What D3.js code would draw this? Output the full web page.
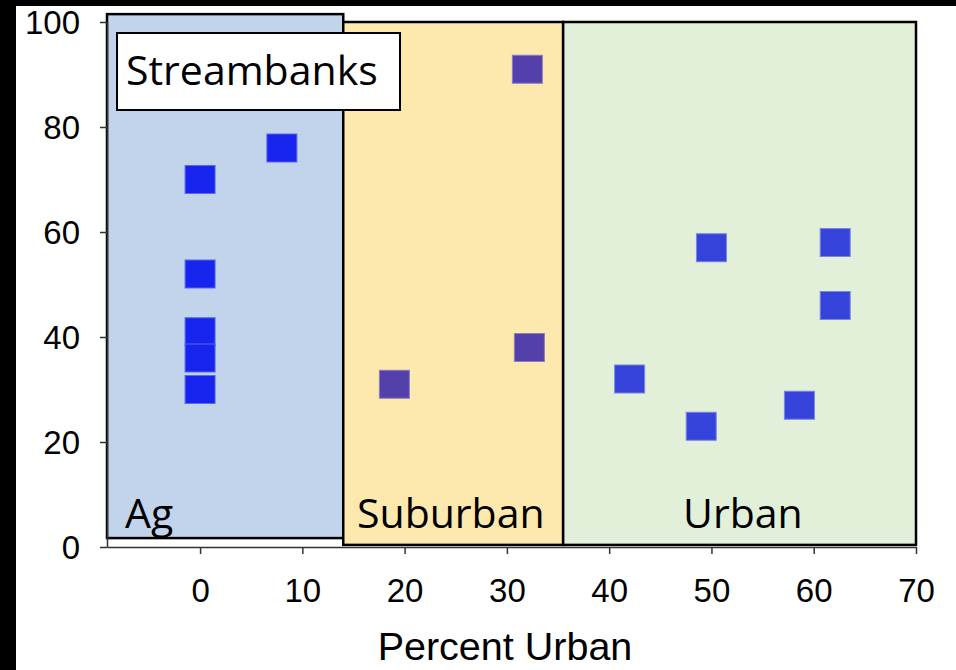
<!DOCTYPE html>
<html lang="en">
<head>
  <meta charset="UTF-8">
  <title>Streambanks</title>
  <style>
    html, body { margin: 0; padding: 0; background: #fff; }
    svg { display: block; }
  </style>
</head>
<body>
<svg id="chart" width="956" height="670"></svg>

<script src="https://cdn.jsdelivr.net/npm/d3@7"></script>
<script>

// land use zones (x in percent urban, y in axis units)
var zoneNames = ["Ag", "Suburban", "Urban"],
  zoneX0 = [-9.1, 14, 35.5],
  zoneX1 = [14, 35.5, 70],
  zoneY0 = [1.7, 0.4, 0.4],
  zoneY1 = [101.5, 100, 100],
  zoneFill = ["#c2d3ec", "#fde8ad", "#e2efd9"];

// points: percent urban vs streambank value
var agX = [0, 0, 0, 0, 0, 8],
  agY = [70, 52, 41, 36, 30, 76];
var subX = [32, 32.2, 19],
  subY = [91, 38, 31];
var urbX = [50, 62.1, 62.1, 42, 58.6, 49],
  urbY = [57, 58, 46, 32, 27, 23];

var xTicks = [0, 10, 20, 30, 40, 50, 60, 70],
  yTicks = [0, 20, 40, 60, 80, 100];

var svg = d3.select("#chart"),
  x = d3.scaleLinear().domain([-9.1, 70]).range([107, 916]),
  y = d3.scaleLinear().domain([0, 100]).range([547, 22]),
  sqW = 30, sqH = 28;

// black frame pieces at top and left edge
svg.append("rect").attr("x", 0).attr("y", 0).attr("width", 956).attr("height", 6).attr("fill", "#000");
svg.append("rect").attr("x", 0).attr("y", 0).attr("width", 16).attr("height", 670).attr("fill", "#000");

// plot top line
svg.append("line")
  .attr("x1", x(-9.1)).attr("x2", x(70))
  .attr("y1", y(100)).attr("y2", y(100))
  .attr("stroke", "#555").attr("stroke-width", 1);

var zones = zoneNames.map(function (n, i) {
  return { name: n, x0: zoneX0[i], x1: zoneX1[i], y0: zoneY0[i], y1: zoneY1[i], fill: zoneFill[i] };
});

svg.selectAll("rect.zone")
  .data(zones)
  .enter().append("rect")
  .attr("class", "zone")
  .attr("x", function (d) { return x(d.x0); })
  .attr("y", function (d) { return y(d.y1); })
  .attr("width", function (d) { return x(d.x1) - x(d.x0); })
  .attr("height", function (d) { return y(d.y0) - y(d.y1); })
  .attr("fill", function (d) { return d.fill; })
  .attr("stroke", "#000")
  .attr("stroke-width", 2.5);

// axes
var yAxis = svg.append("g")
  .attr("transform", "translate(" + x(-9.1) + ",0)")
  .call(d3.axisLeft(y).tickValues(yTicks).tickSize(7).tickSizeOuter(0).tickPadding(20));
var xAxis = svg.append("g")
  .attr("transform", "translate(0," + y(0) + ")")
  .call(d3.axisBottom(x).tickValues(xTicks).tickSize(7).tickSizeOuter(0).tickPadding(25));

[xAxis, yAxis].forEach(function (g) {
  g.select(".domain").attr("stroke", "#333").attr("stroke-width", 1.5);
  g.selectAll(".tick line").attr("stroke", "#333").attr("stroke-width", 1.5);
  g.selectAll(".tick text")
    .attr("fill", "#000")
    .style("font-family", "'Liberation Sans', Arial, sans-serif")
    .style("font-size", "33px");
});
yAxis.selectAll(".tick text").attr("dy", "0.36em");

// zone labels
var labelX = [125, 357, 683];
svg.selectAll("text.zoneLabel")
  .data(zones)
  .enter().append("text")
  .attr("class", "zoneLabel")
  .attr("x", function (d, i) { return labelX[i]; })
  .attr("y", 528)
  .style("font-family", "'Open Sans', 'Noto Sans', sans-serif")
  .style("font-size", "41px")
  .attr("fill", "#000")
  .text(function (d) { return d.name; });

// title box
svg.append("rect")
  .attr("x", 117).attr("y", 33).attr("width", 283).attr("height", 77)
  .attr("fill", "#fff").attr("stroke", "#000").attr("stroke-width", 2);
svg.append("text")
  .attr("x", 126).attr("y", 85)
  .style("font-family", "'Open Sans', 'Noto Sans', sans-serif")
  .style("font-size", "41px")
  .attr("fill", "#000")
  .text("Streambanks");

// points
function drawSquares(xs, ys, fill, edge) {
  var pts = xs.map(function (v, i) { return { x: v, y: ys[i] }; });
  svg.append("g").selectAll("rect")
    .data(pts)
    .enter().append("rect")
    .attr("x", function (d) { return x(d.x) - sqW / 2; })
    .attr("y", function (d) { return y(d.y) - sqH / 2; })
    .attr("width", sqW)
    .attr("height", sqH)
    .attr("fill", fill)
    .attr("stroke", edge)
    .attr("stroke-width", 1);
}

drawSquares(agX, agY, "#1624ee", "#5d68f0");
drawSquares(subX, subY, "#5340aa", "#8a7cc8");
drawSquares(urbX, urbY, "#3643da", "#7a84e6");

// x axis title
svg.append("text")
  .attr("x", 505).attr("y", 660)
  .attr("text-anchor", "middle")
  .style("font-family", "'Liberation Sans', Arial, sans-serif")
  .style("font-size", "39.5px")
  .attr("fill", "#000")
  .text("Percent Urban");

</script>
</body>
</html>
